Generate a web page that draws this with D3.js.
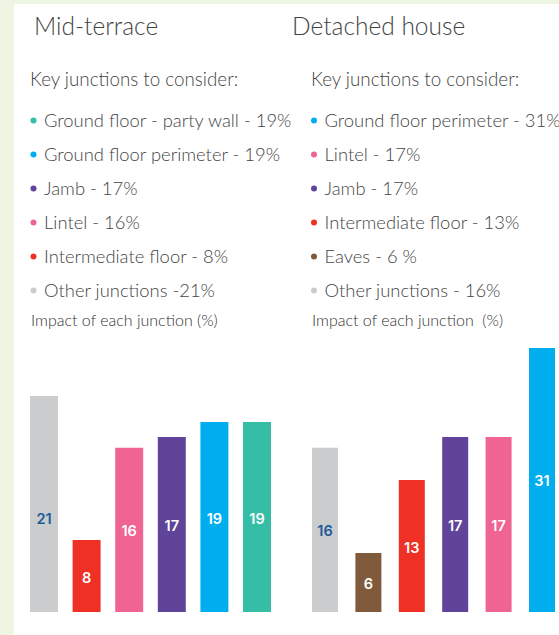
<!DOCTYPE html>
<html>
<head>
<meta charset="utf-8">
<script src="https://cdn.jsdelivr.net/npm/d3@7"></script>
<style>
  html, body { margin: 0; padding: 0; background: #eef6e3; }
  svg { display: block; }
</style>
</head>
<body>
<div class="container"></div>
<script>
// mid-terrace panel
const midTitle = "Mid-terrace";
const midLegend = ["Ground floor - party wall - 19%", "Ground floor perimeter - 19%", "Jamb - 17%", "Lintel - 16%", "Intermediate floor - 8%", "Other junctions -21%"];
const midLegendKeys = ["party", "perimeter", "jamb", "lintel", "intermediate", "other"];
const midBarKeys = ["other", "intermediate", "lintel", "jamb", "perimeter", "party"];
const midBarValues = [21, 8, 16, 17, 19, 19];

// detached panel
const detTitle = "Detached house";
const detLegend = ["Ground floor perimeter - 31%", "Lintel - 17%", "Jamb - 17%", "Intermediate floor - 13%", "Eaves - 6 %", "Other junctions - 16%"];
const detLegendKeys = ["perimeter", "lintel", "jamb", "intermediate", "eaves", "other"];
const detBarKeys = ["other", "eaves", "intermediate", "jamb", "lintel", "perimeter"];
const detBarValues = [16, 6, 13, 17, 17, 31];

const colors = {
  party: "#35bda6", perimeter: "#00aeef", jamb: "#5f4499", lintel: "#f06493",
  intermediate: "#ee3124", other: "#cbccce", eaves: "#7f5b3b"
};

const width = 559, height = 635;
const font = "Lato, 'Open Sans', sans-serif";

let svg = d3.select(".container").append("svg")
  .attr("width", width)
  .attr("height", height);

svg.append("rect")
  .attr("x", 14).attr("y", 4)
  .attr("width", width - 14).attr("height", height - 4)
  .attr("fill", "#fff");

// bar height isn't strictly proportional in the original graphic
const baseline = 612;
const h = d3.scaleLinear()
  .domain([0, 6, 8, 13, 17, 19, 21, 31])
  .range([0, 59, 72, 132, 175, 190, 216, 264]);

function labelY(d) {
  // labels sit near the middle, the 21 one a bit lower
  return d > 25 ? baseline - h(d) / 2 : baseline - Math.min(h(d), 190) / 2 + 1;
}

function panel(opt) {
  let g = svg.append("g");

  g.append("text")
    .attr("x", opt.titleX).attr("y", 35)
    .attr("font-family", font).attr("font-weight", 300)
    .attr("font-size", 24.5).attr("fill", "#444")
    .text(opt.title);

  g.append("text")
    .attr("x", opt.keyX).attr("y", 86)
    .attr("font-family", font).attr("font-weight", 300)
    .attr("font-size", 18.8).attr("fill", "#444")
    .text("Key junctions to consider:");

  let items = g.selectAll("g.item")
    .data(opt.legend)
    .enter()
    .append("g")
    .attr("class", "item")
    .attr("transform", (d, i) => `translate(0, ${127 + i * 34})`);

  items.append("circle")
    .attr("cx", opt.dotX).attr("cy", -6.5).attr("r", 3)
    .attr("fill", (d, i) => colors[opt.legendKeys[i]]);

  items.append("text")
    .attr("x", opt.dotX + 10.5)
    .attr("font-family", font).attr("font-weight", 300)
    .attr("font-size", 18.4).attr("fill", "#444")
    .text(d => d);

  g.append("text")
    .attr("x", opt.keyX + 1).attr("y", 326)
    .attr("font-family", font).attr("font-weight", 300)
    .attr("font-size", 16).attr("fill", "#333")
    .attr("xml:space", "preserve")
    .text(opt.impact);

  let x = d3.scaleBand()
    .domain(opt.barKeys)
    .range(opt.range)
    .paddingInner(opt.pad)
    .paddingOuter(0);

  let bars = g.selectAll("g.bar")
    .data(opt.values)
    .enter()
    .append("g")
    .attr("class", "bar");

  bars.append("rect")
    .attr("x", (d, i) => x(opt.barKeys[i]))
    .attr("y", d => baseline - h(d))
    .attr("width", x.bandwidth())
    .attr("height", d => h(d))
    .attr("fill", (d, i) => colors[opt.barKeys[i]]);

  bars.append("text")
    .attr("x", (d, i) => x(opt.barKeys[i]) + x.bandwidth() / 2)
    .attr("y", labelY)
    .attr("text-anchor", "middle")
    .attr("dominant-baseline", "central")
    .attr("font-family", "Inter, sans-serif")
    .attr("font-weight", 600)
    .attr("font-size", 14.5)
    .attr("fill", (d, i) => opt.barKeys[i] == "other" ? "#1d5a9a" : "#fff")
    .text(d => d);
}

panel({
  title: midTitle, titleX: 34, keyX: 30, dotX: 33.5,
  legend: midLegend, legendKeys: midLegendKeys,
  impact: "Impact of each junction (%)",
  barKeys: midBarKeys, values: midBarValues,
  range: [30, 271], pad: 0.343
});

panel({
  title: detTitle, titleX: 292, keyX: 311, dotX: 314,
  legend: detLegend, legendKeys: detLegendKeys,
  impact: "Impact of each junction  (%)",
  barKeys: detBarKeys, values: detBarValues,
  range: [312, 555], pad: 0.401
});
</script>
</body>
</html>
